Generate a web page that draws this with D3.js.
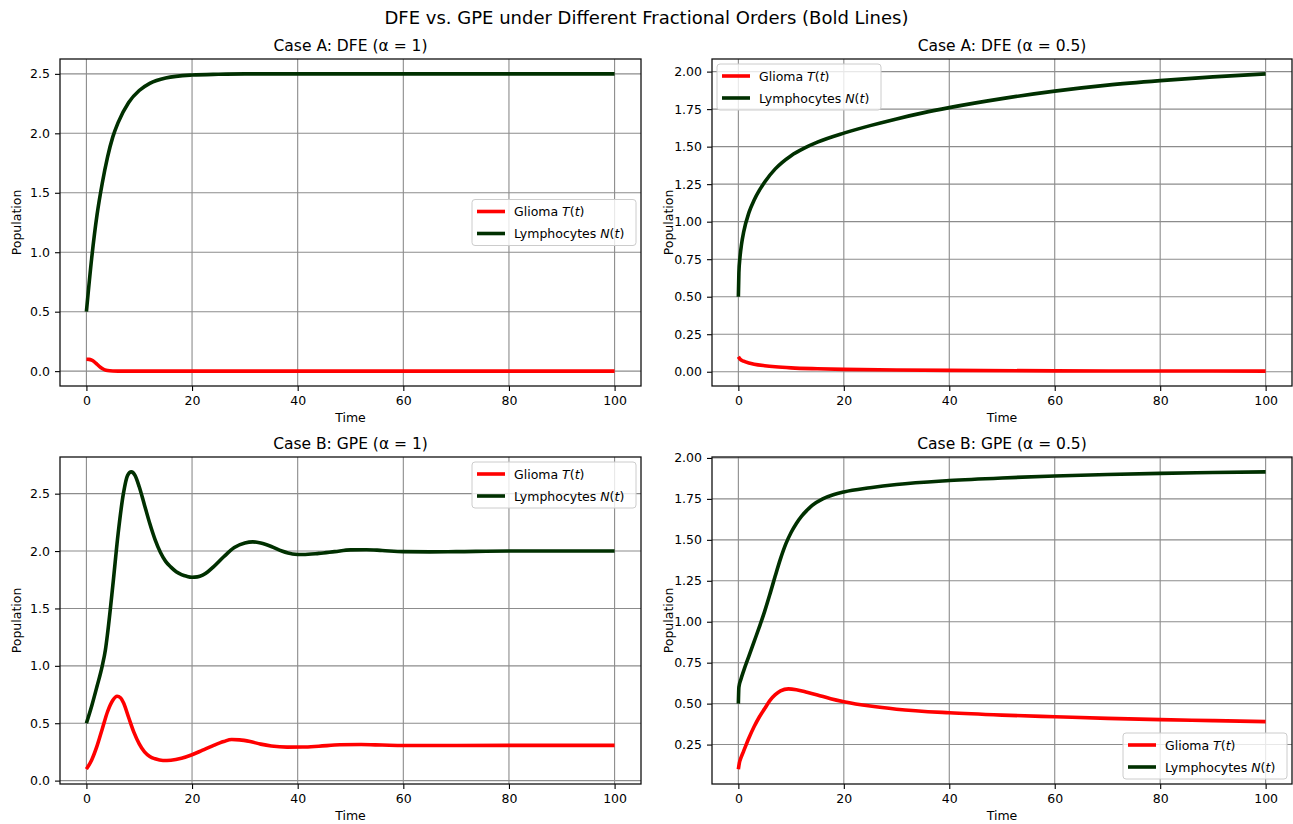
<!DOCTYPE html>
<html>
<head>
<meta charset="utf-8">
<script src="https://cdn.jsdelivr.net/npm/d3@7"></script>
<style>
  body { margin: 0; background: #fff; }
  svg { display: block; font-family: "DejaVu Sans", sans-serif; }
</style>
</head>
<body>
<div id="chart"></div>
<script>
// ==========================================
// 1. DATA
// ==========================================

// Case A: DFE, alpha = 1
const dfe1GliomaTime = [0, 0.5, 1, 1.5, 2, 2.5, 3, 3.5, 4, 5, 6, 100];
const dfe1Glioma     = [0.1, 0.099, 0.092, 0.078, 0.058, 0.038, 0.022, 0.011, 0.005, 0.001, 0, 0];
const dfe1LymphTime  = [0, 1, 2, 3, 4, 5, 6, 8, 10, 12, 15, 20, 25, 30, 40, 100];
const dfe1Lymph      = [0.5, 0.95, 1.31, 1.58, 1.8, 1.97, 2.09, 2.26, 2.36, 2.42, 2.465, 2.49, 2.497, 2.5, 2.5, 2.5];

// Case A: DFE, alpha = 0.5
const dfe05GliomaTime = [0, 0.3, 1, 2, 3, 5, 7, 10, 15, 20, 30, 40, 60, 80, 100];
const dfe05Glioma     = [0.1, 0.085, 0.07, 0.058, 0.05, 0.04, 0.033, 0.026, 0.02, 0.016, 0.012, 0.009, 0.006, 0.005, 0.004];
const dfe05LymphTime  = [0, 0.1, 0.3, 0.6, 1, 2, 3, 4, 5, 7, 10, 12.5, 15, 20, 25, 30, 35, 40, 50, 60, 70, 80, 90, 100];
const dfe05Lymph      = [0.5, 0.66, 0.76, 0.85, 0.93, 1.06, 1.145, 1.21, 1.265, 1.352, 1.44, 1.49, 1.53, 1.59, 1.64, 1.685, 1.725, 1.76, 1.82, 1.87, 1.91, 1.94, 1.965, 1.985];

// Case B: GPE, alpha = 1
const gpe1GliomaTime = [0, 1, 2, 3, 4, 5, 5.8, 6.5, 7, 8, 9, 10, 11, 12, 13, 14.5, 16, 18, 20, 22, 24, 26, 27.5, 29, 31, 33, 35, 38, 41, 44, 48, 52, 56, 60, 70, 80, 100];
const gpe1Glioma     = [0.1, 0.18, 0.3, 0.45, 0.6, 0.7, 0.735, 0.72, 0.68, 0.55, 0.42, 0.32, 0.25, 0.21, 0.19, 0.175, 0.178, 0.195, 0.225, 0.265, 0.305, 0.34, 0.358, 0.355, 0.34, 0.318, 0.302, 0.292, 0.293, 0.3, 0.312, 0.314, 0.31, 0.306, 0.306, 0.307, 0.307];
const gpe1LymphTime  = [0, 1, 2, 3, 3.6, 4, 5, 6, 7, 7.8, 8.5, 9.2, 10, 11, 12, 13, 14, 15, 16, 17, 18, 19, 20, 21, 22, 23, 24, 26, 28, 30, 31.5, 33, 35, 37, 39, 41, 44, 47, 50, 53, 56, 60, 65, 70, 80, 100];
const gpe1Lymph      = [0.5, 0.65, 0.82, 1.0, 1.14, 1.28, 1.7, 2.15, 2.5, 2.66, 2.69, 2.66, 2.56, 2.4, 2.24, 2.1, 1.99, 1.91, 1.86, 1.82, 1.795, 1.78, 1.772, 1.775, 1.79, 1.82, 1.86, 1.95, 2.03, 2.07, 2.08, 2.07, 2.04, 2.0, 1.975, 1.97, 1.98, 1.995, 2.01, 2.012, 2.005, 1.995, 1.993, 1.995, 2.0, 2.0];

// Case B: GPE, alpha = 0.5
const gpe05GliomaTime = [0, 0.2, 0.5, 1, 2, 3, 4, 5, 6, 7, 8, 9.5, 11, 13, 15, 17.5, 20, 25, 30, 40, 50, 60, 70, 80, 90, 100];
const gpe05Glioma     = [0.1, 0.14, 0.17, 0.21, 0.29, 0.36, 0.42, 0.47, 0.52, 0.555, 0.578, 0.59, 0.585, 0.57, 0.553, 0.53, 0.512, 0.485, 0.466, 0.444, 0.43, 0.42, 0.41, 0.402, 0.396, 0.39];
const gpe05LymphTime  = [0, 0.1, 0.5, 1, 2, 3, 4, 5, 6, 7, 8, 9, 10, 11, 12, 13, 14, 16, 18, 20, 25, 30, 40, 50, 60, 70, 80, 90, 100];
const gpe05Lymph      = [0.5, 0.6, 0.65, 0.7, 0.79, 0.88, 0.97, 1.065, 1.17, 1.28, 1.385, 1.475, 1.545, 1.6, 1.645, 1.68, 1.71, 1.75, 1.775, 1.792, 1.818, 1.838, 1.862, 1.878, 1.89, 1.899, 1.906, 1.911, 1.915];

// Tick labels
const xTicks = [0, 20, 40, 60, 80, 100];
const yTicksHalf = [0, 0.5, 1, 1.5, 2, 2.5];
const yTicksQuarter = [0, 0.25, 0.5, 0.75, 1, 1.25, 1.5, 1.75, 2];

const SERIES_NAMES = ["Glioma", "Lymphocytes"];
const SERIES_VARS = ["T", "N"];
const COLORS = ["#ff0000", "#003000"];

// ==========================================
// 2. LAYOUT
// ==========================================
const W = 1293, H = 824;
const COL_X = [60, 712];
const ROW_Y = [59, 457];
const PW = 581, PH = 327;

const panels = [
  { title: "Case A: DFE (α = 1)",   col: 0, row: 0, ticks: yTicksHalf,    fmt: ".1f", legend: "centerRight",
    series: [[dfe1GliomaTime, dfe1Glioma], [dfe1LymphTime, dfe1Lymph]] },
  { title: "Case A: DFE (α = 0.5)", col: 1, row: 0, ticks: yTicksQuarter, fmt: ".2f", legend: "upperLeft",
    series: [[dfe05GliomaTime, dfe05Glioma], [dfe05LymphTime, dfe05Lymph]] },
  { title: "Case B: GPE (α = 1)",   col: 0, row: 1, ticks: yTicksHalf,    fmt: ".1f", legend: "upperRight",
    series: [[gpe1GliomaTime, gpe1Glioma], [gpe1LymphTime, gpe1Lymph]] },
  { title: "Case B: GPE (α = 0.5)", col: 1, row: 1, ticks: yTicksQuarter, fmt: ".2f", legend: "lowerRight",
    series: [[gpe05GliomaTime, gpe05Glioma], [gpe05LymphTime, gpe05Lymph]] }
];

const svg = d3.select("#chart").append("svg")
  .attr("width", W)
  .attr("height", H);

svg.append("rect").attr("width", W).attr("height", H).attr("fill", "#fff");

svg.append("text")
  .attr("x", W / 2)
  .attr("y", 24)
  .attr("text-anchor", "middle")
  .attr("font-size", 18)
  .text("DFE vs. GPE under Different Fractional Orders (Bold Lines)");

// ==========================================
// 3. PANELS
// ==========================================
panels.forEach(p => {
  const x0 = COL_X[p.col];
  const y0 = ROW_Y[p.row];
  const pw = p.col === 0 ? PW : PW - 1;

  // matplotlib-like 5% margins
  const allVals = p.series.flatMap(s => s[1]);
  const [lo, hi] = d3.extent(allVals);
  const pad = (hi - lo) * 0.05;

  const x = d3.scaleLinear().domain([-5, 105]).range([0, pw]);
  const y = d3.scaleLinear().domain([lo - pad, hi + pad]).range([PH, 0]);
  const yTicks = p.ticks.filter(t => t >= lo - pad && t <= hi + pad);

  const g = svg.append("g").attr("transform", `translate(${x0},${y0})`);

  // grid
  g.append("g").selectAll("line.gx")
    .data(xTicks).join("line")
    .attr("x1", d => x(d)).attr("x2", d => x(d))
    .attr("y1", 0).attr("y2", PH)
    .attr("stroke", "#8c8c8c").attr("stroke-width", 1.1);
  g.append("g").selectAll("line.gy")
    .data(yTicks).join("line")
    .attr("x1", 0).attr("x2", pw)
    .attr("y1", d => y(d)).attr("y2", d => y(d))
    .attr("stroke", "#8c8c8c").attr("stroke-width", 1.1);

  // axes
  const xAxis = g.append("g")
    .attr("transform", `translate(0,${PH})`)
    .call(d3.axisBottom(x).tickValues(xTicks).tickSize(5).tickPadding(5).tickFormat(d3.format("d")));
  const yAxis = g.append("g")
    .call(d3.axisLeft(y).tickValues(yTicks).tickSize(5).tickPadding(5).tickFormat(d3.format(p.fmt)));
  [xAxis, yAxis].forEach(a => {
    a.select(".domain").remove();
    a.selectAll("text").attr("font-size", 12.5).attr("font-family", "DejaVu Sans").attr("fill", "#000");
    a.selectAll("line").attr("stroke", "#000").attr("stroke-width", 1.1);
  });

  // series lines
  const line = d3.line()
    .x(d => x(d[0]))
    .y(d => y(d[1]))
    .curve(d3.curveMonotoneX);

  p.series.forEach((s, i) => {
    const pts = s[0].map((t, k) => [t, s[1][k]]);
    g.append("path")
      .datum(pts)
      .attr("d", line)
      .attr("fill", "none")
      .attr("stroke", COLORS[i])
      .attr("stroke-width", 3.6)
      .attr("stroke-linejoin", "round");
  });

  // frame
  g.append("rect")
    .attr("width", pw).attr("height", PH)
    .attr("fill", "none")
    .attr("stroke", "#111").attr("stroke-width", 1.3);

  // titles and labels
  g.append("text")
    .attr("x", pw / 2).attr("y", -8)
    .attr("text-anchor", "middle")
    .attr("font-size", 15.5)
    .text(p.title);
  g.append("text")
    .attr("x", pw / 2).attr("y", PH + 36)
    .attr("text-anchor", "middle")
    .attr("font-size", 12.5)
    .text("Time");
  g.append("text")
    .attr("transform", `translate(${-39},${PH / 2}) rotate(-90)`)
    .attr("text-anchor", "middle")
    .attr("font-size", 12.5)
    .text("Population");

  // legend
  const lw = 164, lh = 46;
  let lx, ly;
  if (p.legend === "centerRight") { lx = pw - 5 - lw; ly = PH / 2 - lh / 2; }
  if (p.legend === "upperLeft")   { lx = 5; ly = 5; }
  if (p.legend === "upperRight")  { lx = pw - 5 - lw; ly = 5; }
  if (p.legend === "lowerRight")  { lx = pw - 5 - lw; ly = PH - 5 - lh; }

  const leg = g.append("g").attr("transform", `translate(${lx},${ly})`);
  leg.append("rect")
    .attr("width", lw).attr("height", lh)
    .attr("rx", 3)
    .attr("fill", "#fff").attr("fill-opacity", 0.8)
    .attr("stroke", "#cccccc");

  SERIES_NAMES.forEach((name, i) => {
    const yy = 12 + i * 22;
    leg.append("line")
      .attr("x1", 5).attr("x2", 33)
      .attr("y1", yy).attr("y2", yy)
      .attr("stroke", COLORS[i]).attr("stroke-width", 3.6);
    const t = leg.append("text")
      .attr("x", 42).attr("y", yy + 4.5)
      .attr("font-size", 12.5);
    t.append("tspan").text(name + " ");
    t.append("tspan").attr("font-style", "italic").text(SERIES_VARS[i]);
    t.append("tspan").text("(");
    t.append("tspan").attr("font-style", "italic").text("t");
    t.append("tspan").text(")");
  });
});
</script>
</body>
</html>
